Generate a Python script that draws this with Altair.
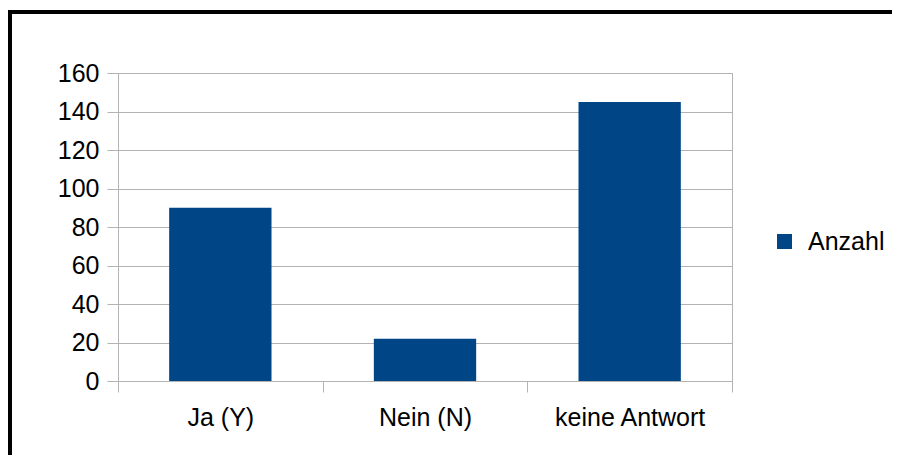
import altair as alt
import pandas as pd

categories = ["Ja (Y)", "Nein (N)", "keine Antwort"]
values = [90, 22, 145]
series_name = "Anzahl"
y_ticks = [0, 20, 40, 60, 80, 100, 120, 140, 160]

df = pd.DataFrame({"Kategorie": categories, "Wert": values, "Serie": [series_name] * len(categories)})

FONT = "Liberation Sans"
GRID = "#b3b3b3"
BAR = "#004586"

bars = alt.Chart(df).mark_bar(width=alt.RelativeBandSize(0.5)).encode(
    x=alt.X(
        "Kategorie:N",
        sort=categories,
        scale=alt.Scale(paddingInner=0, paddingOuter=0),
        axis=alt.Axis(
            title=None,
            labelAngle=0,
            tickBand="extent",
            grid=False,
            domain=False,
            tickColor=GRID,
            tickSize=11,
            labelFontSize=25,
            labelFont=FONT,
            labelColor="black",
            labelPadding=13,
        ),
    ),
    y=alt.Y(
        "Wert:Q",
        scale=alt.Scale(domain=[0, 160], nice=False),
        axis=alt.Axis(
            title=None,
            values=y_ticks,
            grid=True,
            gridColor=GRID,
            domain=False,
            tickColor=GRID,
            tickSize=11,
            labelFontSize=25,
            labelFont=FONT,
            labelColor="black",
            labelPadding=8,
        ),
    ),
    color=alt.Color(
        "Serie:N",
        scale=alt.Scale(range=[BAR]),
        legend=alt.Legend(
            title=None,
            orient="none",
            legendX=654,
            legendY=156,
            symbolType="square",
            symbolSize=225,
            symbolStrokeWidth=0,
            labelFontSize=25,
            labelFont=FONT,
            labelColor="black",
            labelOffset=11,
        ),
    ),
)

frame = alt.Chart(alt.Data(values=[{}])).mark_rect(
    fill=None, stroke="black", strokeWidth=4
).encode(
    x=alt.value(-108), x2=alt.value(900), y=alt.value(-61), y2=alt.value(700)
)

chart = alt.layer(frame, bars).properties(
    width=614,
    height=308,
    padding={"left": 110, "top": 65, "right": 160, "bottom": 74},
    autosize=alt.AutoSizeParams(type="none"),
).configure_view(stroke=GRID, strokeWidth=1)

chart.save("out.html", embed_options={"renderer": "svg", "actions": False})
